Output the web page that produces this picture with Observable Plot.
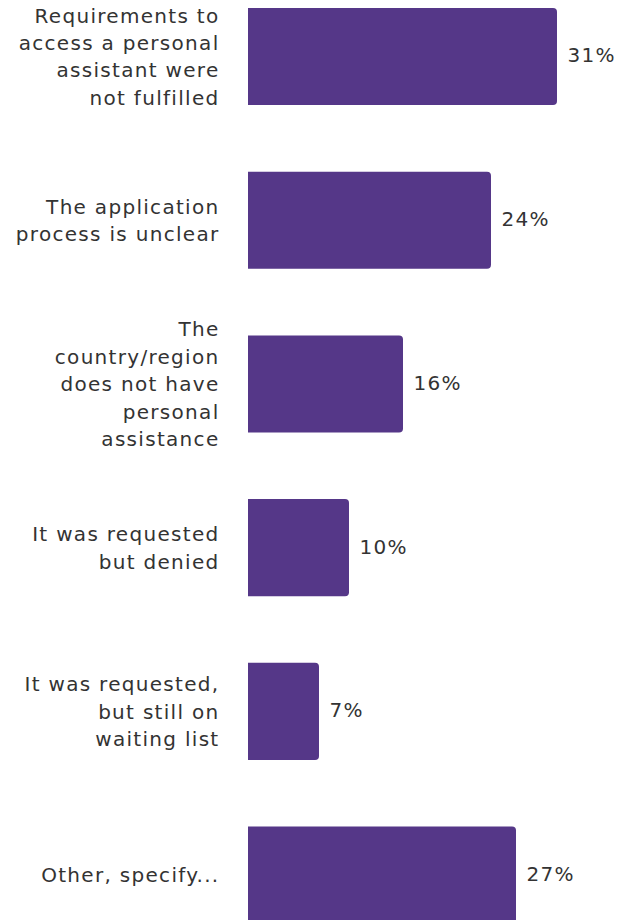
<!DOCTYPE html>
<html>
<head>
<meta charset="utf-8">
<script src="https://cdn.jsdelivr.net/npm/d3@7"></script>
<script src="https://cdn.jsdelivr.net/npm/@observablehq/plot@0.6"></script>
<style>
  html, body { margin: 0; padding: 0; background: #fff; }
  #chart svg { display: block; letter-spacing: 1.3px; }
</style>
</head>
<body>
<div id="chart"></div>
<script>
const categories = [
  "Requirements to\naccess a personal\nassistant were\nnot fulfilled",
  "The application\nprocess is unclear",
  "The\ncountry/region\ndoes not have\npersonal\nassistance",
  "It was requested\nbut denied",
  "It was requested,\nbut still on\nwaiting list",
  "Other, specify..."
];
const values = [30.9, 24.3, 15.5, 10.1, 7.1, 26.8];
const valueLabels = ["31%", "24%", "16%", "10%", "7%", "27%"];

const data = categories.map((c, i) => ({category: c, value: values[i], label: valueLabels[i]}));

const chart = Plot.plot({
  width: 632,
  height: 920,
  marginLeft: 248,
  marginRight: 0,
  marginTop: 0,
  marginBottom: 0,
  style: {fontFamily: "'DejaVu Sans', Verdana, sans-serif", fontSize: "20px", color: "#333", background: "#fff"},
  x: {domain: [0, 38.4], axis: null},
  y: {domain: categories, range: [8, 923.6], paddingInner: 0.407, paddingOuter: 0, round: false, axis: null},
  marks: [
    Plot.barX(data, {y: "category", x: "value", fill: "#553788", rx2: 4, insetTop: 0, insetBottom: 0}),
    Plot.text(data, {y: "category", x: 0, text: "category", textAnchor: "end", dx: -29, dy: -2, lineHeight: 1.37, fill: "#333", fontSize: 20}),
    Plot.text(data, {y: "category", x: "value", text: "label", textAnchor: "start", dx: 10, dy: -1, fill: "#333", fontSize: 20})
  ]
});
document.getElementById("chart").appendChild(chart);
</script>
</body>
</html>
